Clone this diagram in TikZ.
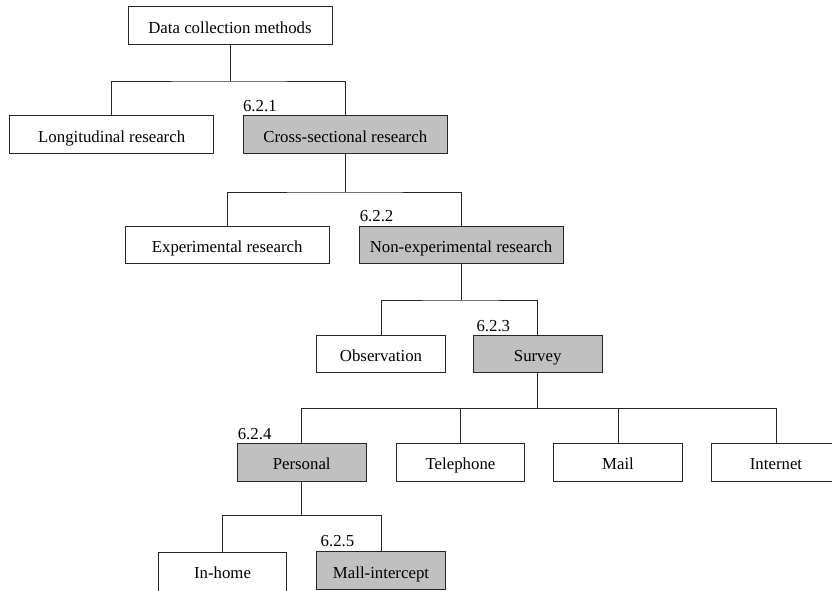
\documentclass[tikz,border=0pt]{standalone}
\usepackage{fontspec}
\setmainfont{Liberation Serif}
\definecolor{boxgray}{HTML}{C0C0C0}
\definecolor{inkline}{HTML}{262626}
\begin{document}
\begin{tikzpicture}[x=1pt,y=-1pt,
  every node/.style={font=\fontsize{16.8}{19}\selectfont},
  box/.style={draw=inkline, line width=0.9pt, fill=white, minimum height=37.5pt,
              text height=18.5pt, text depth=3.5pt, inner sep=0pt},
  wide/.style={box, minimum width=204pt},
  narrow/.style={box, minimum width=128.7pt},
  shaded/.style={fill=boxgray},
  num/.style={anchor=base west, inner sep=0pt},
  link/.style={line width=0.9pt, draw=inkline}]

\useasboundingbox (0,0) rectangle (832,590);
\clip (0,0) rectangle (832,590);

% boxes of the classification tree
\node[wide] (dcm) at (230,25.5) {Data collection methods};

\node[wide] (lr) at (111.7,134.5) {Longitudinal research};
\node[wide,shaded] (cs) at (345.3,134.5) {Cross-sectional research};

\node[wide] (ex) at (227.2,245) {Experimental research};
\node[wide,shaded] (ne) at (461,245) {Non-experimental research};

\node[narrow] (ob) at (381,354) {Observation};
\node[narrow,shaded] (sv) at (537.7,354) {Survey};

\node[narrow,shaded] (pe) at (301.7,462.3) {Personal};
\node[narrow] (te) at (460.5,462.3) {Telephone};
\node[narrow] (ma) at (618,462.3) {Mail};
\node[narrow] (inet) at (776,462.3) {Internet};

\node[narrow, anchor=north, minimum height=43pt, text depth=9pt] (ih) at (222.5,551.75) {In-home};
\node[narrow,shaded] (mi) at (381,570.5) {Mall-intercept};

% section numbers above the shaded boxes
\node[num] (n1) at ([yshift=4pt]cs.north west) {6.2.1};
\node[num] (n2) at ([xshift=1pt,yshift=4pt]ne.north west) {6.2.2};
\node[num] (n3) at ([xshift=3.4pt,yshift=3.5pt]sv.north west) {6.2.3};
\node[num] (n4) at ([xshift=0.7pt,yshift=4pt]pe.north west) {6.2.4};
\node[num] (n5) at ([xshift=4.3pt,yshift=5pt]mi.north west) {6.2.5};

% elbow connectors: parent down to a bus, bus down to each child
\draw[link] (dcm.south) -- (dcm.south |- 0,81) coordinate (b1);
\draw[link] (lr.north) |- (b1) -| (cs.north);

\draw[link] (cs.south) -- (cs.south |- 0,192) coordinate (b2);
\draw[link] (ex.north) |- (b2) -| (ne.north);

\draw[link] (ne.south) -- (ne.south |- 0,300) coordinate (b3);
\draw[link] (ob.north) |- (b3) -| (sv.north);

\draw[link] (sv.south) -- (sv.south |- 0,408) coordinate (b4);
\draw[link] (pe.north) |- (b4) -| (inet.north);
\draw[link] (te.north) -- (te.north |- b4);
\draw[link] (ma.north) -- (ma.north |- b4);

\draw[link] (pe.south) -- (pe.south |- 0,515) coordinate (b5);
\draw[link] (ih.north) |- (b5) -| (mi.north);
\end{tikzpicture}
\end{document}
